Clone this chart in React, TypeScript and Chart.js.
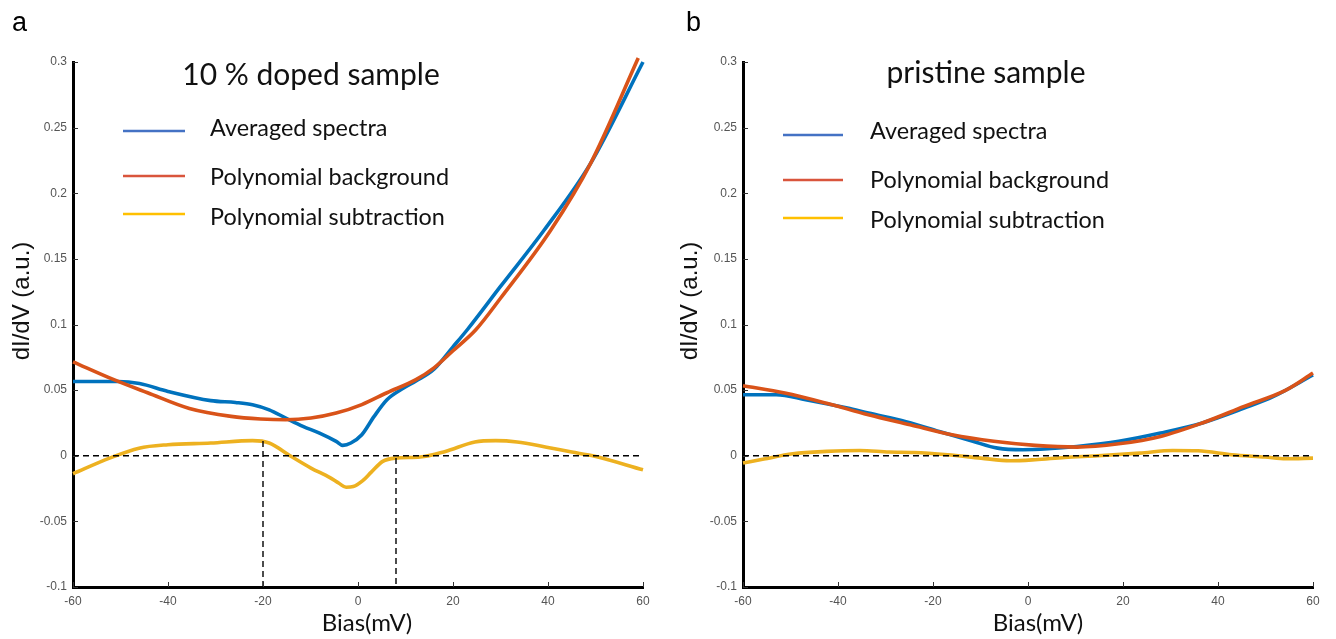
import React, { useEffect, useRef } from "react";
import { Chart, registerables } from "chart.js";

Chart.register(...registerables);

// ---------- shared labels / ticks ----------
const seriesLabels = ["Averaged spectra", "Polynomial background", "Polynomial subtraction"];
const panelLetters = ["a", "b"];
const panelTitles = ["10 % doped sample", "pristine sample"];
const xTickValues = [-60, -40, -20, 0, 20, 40, 60];
const yTickValues = [-0.1, -0.05, 0, 0.05, 0.1, 0.15, 0.2, 0.25, 0.3];
const xAxisTitle = "Bias(mV)";
const yAxisTitle = "dI/dV (a.u.)";

// ---------- panel a: 10 % doped sample ----------
const biasAvgA = [-60, -50.5, -46, -40, -31, -25.8, -22.2, -18.7, -15.2, -11.6, -8.1, -4.6, -3.2, -1.5, 0.8, 3.4, 6.1, 9.6, 12.2, 16, 20, 23, 30, 39.2, 49, 60];
const avgA = [0.0566, 0.0566, 0.055, 0.049, 0.042, 0.0406, 0.0389, 0.035, 0.0287, 0.0224, 0.0173, 0.011, 0.0079, 0.0097, 0.016, 0.03, 0.0427, 0.0516, 0.057, 0.066, 0.083, 0.096, 0.129, 0.172, 0.223, 0.3];

const biasBgA = [-60, -51.4, -44.3, -35.5, -26.7, -20.5, -15.2, -9.9, -4.6, 0.8, 6.1, 12.2, 16, 20, 24.8, 30, 40.6, 49, 59];
const bgA = [0.0716, 0.058, 0.048, 0.036, 0.03, 0.028, 0.0274, 0.0287, 0.0325, 0.039, 0.048, 0.058, 0.067, 0.08, 0.096, 0.12, 0.172, 0.223, 0.303];

const biasSubA = [-60, -52.3, -46.1, -40, -31, -22.2, -18.7, -14.3, -9.9, -6, -4, -2.5, -1, 1, 2.8, 5.2, 7.8, 13.1, 18.4, 24.6, 29, 33.5, 39.7, 45, 49.4, 60];
const subA = [-0.0137, -0.0018, 0.0058, 0.0084, 0.0097, 0.0115, 0.0097, 0, -0.0094, -0.0165, -0.021, -0.024, -0.0235, -0.019, -0.0125, -0.0043, -0.0018, -0.001, 0.0033, 0.0105, 0.0115, 0.0105, 0.0065, 0.0028, 0, -0.0107];

const zeroLineBias = [-60, 60];
const zeroLineValue = [0, 0];
const markerBiasA = [-20, 8];
const markerTopA = [0.0112, -0.0018];
const axisMin = -0.1;

// ---------- panel b: pristine sample ----------
const biasAvgB = [-60, -53, -46.8, -38, -33.6, -25.7, -18.7, -11.6, -6.4, -1.1, 4.2, 10.3, 19.1, 27.9, 36.7, 45.5, 51.6, 60];
const avgB = [0.0465, 0.0465, 0.0427, 0.0363, 0.0325, 0.026, 0.0185, 0.011, 0.0058, 0.0046, 0.0053, 0.0071, 0.011, 0.0173, 0.025, 0.0363, 0.045, 0.0615];

const biasBgB = [-60, -51.2, -42.4, -33.6, -24.8, -16, -7.2, 1.5, 10.3, 19.1, 27.9, 36.7, 45.5, 54.3, 60];
const bgB = [0.0533, 0.0478, 0.04, 0.0312, 0.0236, 0.016, 0.011, 0.0079, 0.0066, 0.0091, 0.0147, 0.025, 0.0376, 0.05, 0.063];

const biasSubB = [-60, -55.6, -49.5, -42.4, -35.4, -29.2, -24, -16.9, -9.9, -3.7, 1.5, 7.7, 14.7, 23.5, 30.5, 35.8, 42.9, 49.9, 54.3, 60];
const subB = [-0.0056, -0.0025, 0.0015, 0.0033, 0.004, 0.0028, 0.0025, 0.0008, -0.0018, -0.0038, -0.003, -0.0013, 0, 0.002, 0.004, 0.0038, 0.0008, -0.001, -0.0023, -0.0018];

// ---------- styling ----------
const FONT = "Lato, 'Open Sans', sans-serif";
const ARIAL = "'Liberation Sans', Arial, sans-serif";
const NARROW = "'Liberation Sans Narrow', 'Liberation Sans', Arial, sans-serif";
const lineColors = ["#0072BD", "#D95319", "#EDB120"];
const legendColors = ["#4472C4", "#D9553C", "#FFC000"];

const pts = (xs: number[], ys: number[]) => xs.map((x, i) => ({ x, y: ys[i] }));

const curve = (label: string, color: string, xs: number[], ys: number[]) => ({
  label,
  data: pts(xs, ys),
  borderColor: color,
  backgroundColor: color,
  borderWidth: 3.6,
  pointRadius: 0,
  cubicInterpolationMode: "monotone" as const,
  fill: false,
  clip: 6,
});

const dashed = (xs: number[], ys: number[]) => ({
  label: "",
  data: pts(xs, ys),
  borderColor: "#000",
  borderWidth: 1.4,
  borderDash: [6, 4],
  pointRadius: 0,
  tension: 0,
  fill: false,
  clip: 4,
});

const decorPlugin = {
  id: "decor",
  afterDraw(chart: any, _args: any, opts: any) {
    const ctx = chart.ctx as CanvasRenderingContext2D;
    const { left, right, bottom } = chart.chartArea;
    const xs = chart.scales.x;
    const ys = chart.scales.y;
    ctx.save();
    // inward tick marks
    ctx.strokeStyle = "#333";
    ctx.lineWidth = 1;
    ys.ticks.forEach((t: any) => {
      const p = Math.round(ys.getPixelForValue(t.value)) + 0.5;
      ctx.beginPath();
      ctx.moveTo(left, p);
      ctx.lineTo(left + 5, p);
      ctx.stroke();
    });
    xs.ticks.forEach((t: any) => {
      const p = Math.round(xs.getPixelForValue(t.value)) + 0.5;
      ctx.beginPath();
      ctx.moveTo(p, bottom);
      ctx.lineTo(p, bottom - 5);
      ctx.stroke();
    });
    // axis titles
    ctx.fillStyle = "#111";
    ctx.textAlign = "center";
    ctx.textBaseline = "middle";
    ctx.font = `24px ${FONT}`;
    ctx.fillText(xAxisTitle, (left + right) / 2 + opts.xTitleShift, opts.xTitleY);
    ctx.save();
    ctx.translate(opts.yTitleX, opts.yTitleY);
    ctx.rotate(-Math.PI / 2);
    ctx.font = `24px ${ARIAL}`;
    ctx.fillText(yAxisTitle, 0, 0);
    ctx.restore();
    // panel letter
    ctx.fillStyle = "#000";
    ctx.textAlign = "left";
    ctx.textBaseline = "alphabetic";
    ctx.font = `27px ${ARIAL}`;
    ctx.fillText(opts.letter, opts.letterX, opts.letterY);
    // title
    ctx.font = `${opts.titleSize}px ${FONT}`;
    ctx.textAlign = "center";
    ctx.textBaseline = "middle";
    ctx.fillStyle = "#111";
    ctx.fillText(opts.title, opts.titleX, opts.titleY);
    // legend
    ctx.textAlign = "left";
    ctx.font = `${opts.legendSize}px ${FONT}`;
    opts.legendRows.forEach((row: any, i: number) => {
      ctx.strokeStyle = legendColors[i];
      ctx.lineWidth = 2.6;
      ctx.beginPath();
      ctx.moveTo(opts.legendLineX0, row.lineY);
      ctx.lineTo(opts.legendLineX1, row.lineY);
      ctx.stroke();
      ctx.fillStyle = "#111";
      ctx.fillText(seriesLabels[i], opts.legendTextX, row.textY);
    });
    ctx.restore();
  },
};

function makeConfig(datasets: any[], yWidth: number, padRight: number, decor: any): any {
  return {
    type: "line",
    data: { datasets },
    plugins: [decorPlugin],
    options: {
      animation: false,
      responsive: false,
      events: [],
      layout: { padding: { left: 0, right: padRight, top: 62, bottom: 0 } },
      plugins: {
        legend: { display: false },
        tooltip: { enabled: false },
        title: { display: false },
        decor,
      },
      scales: {
        x: {
          type: "linear",
          min: -60,
          max: 60,
          afterBuildTicks: (s: any) => {
            s.ticks = xTickValues.map((v) => ({ value: v }));
          },
          afterFit: (s: any) => {
            s.height = 52;
          },
          ticks: {
            color: "#555",
            font: { family: NARROW, size: 12 },
            padding: 7,
            maxRotation: 0,
            callback: (v: any) => String(v),
          },
          grid: { display: true, drawOnChartArea: false, drawTicks: false },
          border: { display: true, color: "#000", width: 3 },
          title: { display: false },
        },
        y: {
          type: "linear",
          min: -0.1,
          max: 0.3,
          afterBuildTicks: (s: any) => {
            s.ticks = yTickValues.map((v) => ({ value: v }));
          },
          afterFit: (s: any) => {
            s.width = yWidth;
          },
          ticks: {
            color: "#555",
            font: { family: NARROW, size: 12 },
            padding: 6,
            callback: (v: any) => String(Number(Number(v).toFixed(2))),
          },
          grid: { display: true, drawOnChartArea: false, drawTicks: false },
          border: { display: true, color: "#000", width: 3 },
          title: { display: false },
        },
      },
    },
  };
}

function Panel({ left, config }: { left: number; config: any }) {
  const ref = useRef<HTMLCanvasElement | null>(null);
  useEffect(() => {
    if (!ref.current) return;
    const chart = new Chart(ref.current, config);
    return () => chart.destroy();
  }, [config]);
  return (
    <canvas
      ref={ref}
      width={668}
      height={639}
      style={{ position: "absolute", left, top: 0, width: 668, height: 639 }}
    />
  );
}

const configA = makeConfig(
  [
    dashed(zeroLineBias, zeroLineValue),
    dashed([markerBiasA[0], markerBiasA[0]], [markerTopA[0], axisMin]),
    dashed([markerBiasA[1], markerBiasA[1]], [markerTopA[1], axisMin]),
    curve(seriesLabels[1], lineColors[1], biasBgA, bgA),
    curve(seriesLabels[0], lineColors[0], biasAvgA, avgA),
    curve(seriesLabels[2], lineColors[2], biasSubA, subA),
  ],
  73,
  25,
  {
    letter: panelLetters[0],
    letterX: 12,
    letterY: 31,
    title: panelTitles[0],
    titleSize: 30,
    titleX: 311,
    titleY: 75,
    xTitleShift: 9,
    xTitleY: 623,
    yTitleX: 22,
    yTitleY: 301,
    legendSize: 23.4,
    legendLineX0: 123,
    legendLineX1: 185,
    legendTextX: 210,
    legendRows: [
      { lineY: 131, textY: 128 },
      { lineY: 176, textY: 177 },
      { lineY: 214, textY: 217 },
    ],
  }
);

const configB = makeConfig(
  [
    dashed(zeroLineBias, zeroLineValue),
    curve(seriesLabels[1], lineColors[1], biasBgB, bgB),
    curve(seriesLabels[0], lineColors[0], biasAvgB, avgB),
    curve(seriesLabels[2], lineColors[2], biasSubB, subB),
  ],
  75,
  23,
  {
    letter: panelLetters[1],
    letterX: 18,
    letterY: 31,
    title: panelTitles[1],
    titleSize: 30,
    titleX: 318,
    titleY: 73,
    xTitleShift: 10,
    xTitleY: 623,
    yTitleX: 22,
    yTitleY: 301,
    legendSize: 23.4,
    legendLineX0: 115,
    legendLineX1: 175,
    legendTextX: 202,
    legendRows: [
      { lineY: 135, textY: 131 },
      { lineY: 180, textY: 180 },
      { lineY: 218, textY: 220 },
    ],
  }
);

export default function App() {
  return (
    <div
      style={{
        position: "fixed",
        left: 0,
        top: 0,
        width: 1336,
        height: 639,
        background: "#fff",
        overflow: "hidden",
      }}
    >
      <Panel left={0} config={configA} />
      <Panel left={668} config={configB} />
    </div>
  );
}
